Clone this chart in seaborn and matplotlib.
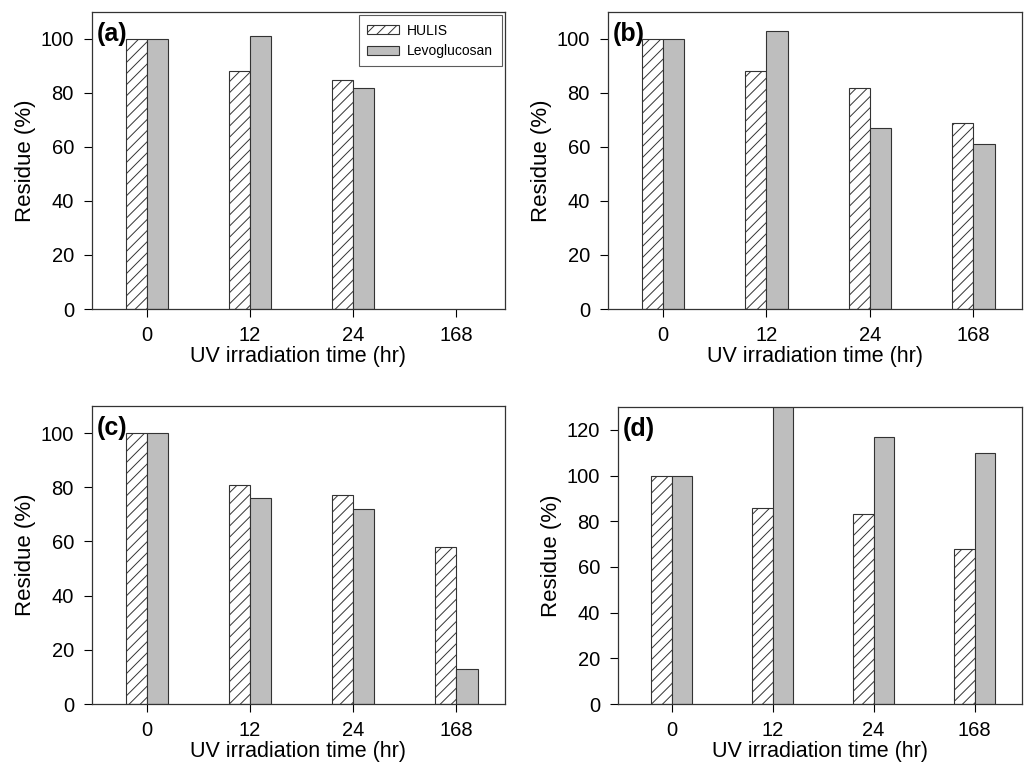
import pandas as pd
import numpy as np
import matplotlib.pyplot as plt
import matplotlib.patches as mpatches
import seaborn as sns

# categorias e valores
tempos = ['0', '12', '24', '168']
series = ['HULIS', 'Levoglucosan']

hulis_a = [100, 88, 85, np.nan]
levo_a = [100, 101, 82, np.nan]
hulis_b = [100, 88, 82, 69]
levo_b = [100, 103, 67, 61]
hulis_c = [100, 81, 77, 58]
levo_c = [100, 76, 72, 13]
hulis_d = [100, 86, 83, 68]
levo_d = [100, 135, 117, 110]

paineis = [
    ('(a)', hulis_a, levo_a, 110, [0, 20, 40, 60, 80, 100]),
    ('(b)', hulis_b, levo_b, 110, [0, 20, 40, 60, 80, 100]),
    ('(c)', hulis_c, levo_c, 110, [0, 20, 40, 60, 80, 100]),
    ('(d)', hulis_d, levo_d, 130, [0, 20, 40, 60, 80, 100, 120]),
]

sns.set_theme(style='ticks')
plt.rcParams['font.family'] = ['Liberation Sans', 'DejaVu Sans']
plt.rcParams['hatch.linewidth'] = 0.7
plt.rcParams['hatch.color'] = '#333333'
for k in ['text.color', 'axes.labelcolor', 'xtick.color', 'ytick.color']:
    plt.rcParams[k] = 'black'

W, H = 1027, 774
fig = plt.figure(figsize=(W / 100, H / 100), dpi=100)

# posições em pixels: esquerda, topo, direita, base
caixas = [
    (92, 12, 505, 309),
    (608, 12, 1022, 309),
    (92, 406, 505, 704),
    (618, 407, 1022, 704),
]

cinza = '#bebebe'
borda = '#333333'

for (rotulo, hulis, levo, ymax, yticks), (l, t, r, b) in zip(paineis, caixas):
    ax = fig.add_axes([l / W, 1 - b / H, (r - l) / W, (b - t) / H])
    dados = pd.DataFrame({
        'tempo': tempos * 2,
        'serie': [series[0]] * 4 + [series[1]] * 4,
        'residuo': list(hulis) + list(levo),
    })
    sns.barplot(data=dados, x='tempo', y='residuo', hue='serie', order=tempos,
                hue_order=series, palette=['white', cinza], width=0.41,
                edgecolor=borda, linewidth=0.8, legend=False, ax=ax)
    for barra in ax.containers[0]:
        barra.set_hatch('///')
        barra.set_facecolor('white')
    ax.set_xlim(-0.53, 3.47)
    ax.set_ylim(0, ymax)
    ax.set_yticks(yticks)
    ax.set_xlabel('UV irradiation time (hr)', fontsize=15.5, labelpad=1)
    ax.set_ylabel('Residue (%)', fontsize=16, labelpad=3)
    ax.tick_params(labelsize=14.5, width=0.8, colors='black')
    ax.tick_params(axis='y', direction='out', length=6, pad=7)
    ax.tick_params(axis='x', direction='out', length=6, pad=6)
    for s in ax.spines.values():
        s.set_visible(True)
        s.set_color(borda)
        s.set_linewidth(0.9)
    ax.text(0.012, 0.926, rotulo, transform=ax.transAxes, fontsize=18,
            fontweight='bold', va='center', ha='left')
    if rotulo == '(a)':
        handles = [
            mpatches.Patch(facecolor='white', edgecolor=borda, hatch='///', linewidth=0.8),
            mpatches.Patch(facecolor=cinza, edgecolor=borda, linewidth=0.8),
        ]
        leg = ax.legend(handles, series, loc='upper right', fontsize=10,
                        frameon=True, fancybox=False, edgecolor=borda,
                        borderaxespad=0.25, handlelength=2.3, handleheight=0.6,
                        labelspacing=0.45, borderpad=0.6, handletextpad=0.6)
        leg.get_frame().set_linewidth(0.8)

fig.savefig('out.png', dpi=100)
